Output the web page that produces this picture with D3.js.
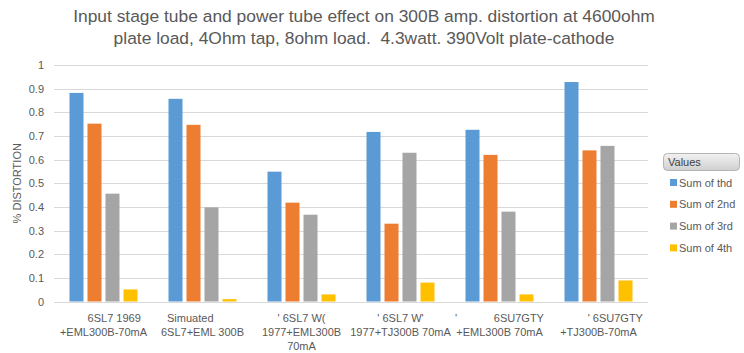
<!DOCTYPE html>
<html><head><meta charset="utf-8">
<script src="https://cdn.jsdelivr.net/npm/d3@7"></script>
<style>
body{margin:0;background:#fff;}
svg{display:block;font-family:"Liberation Sans",Arial,sans-serif;}
</style></head>
<body><svg id="c" width="744" height="353"></svg>
<script>
const titleLines = ["Input stage tube and power tube effect on 300B amp. distortion at 4600ohm",
                    "plate load, 4Ohm tap, 8ohm load.\u00a0 4.3watt. 390Volt plate-cathode"];
const categories = [
  ["\u00a0\u00a0\u00a0\u00a0\u00a0\u00a0\u00a06SL7 1969", "+EML300B-70mA"],
  ["Simuated\u00a0\u00a0\u00a0\u00a0\u00a0\u00a0\u00a0\u00a0", "6SL7+EML 300B"],
  ["' 6SL7 W(", "1977+EML300B", "70mA"],
  ["' 6SL7 W'", "1977+TJ300B 70mA"],
  ["'\u00a0\u00a0\u00a0\u00a0\u00a0\u00a0\u00a0\u00a0\u00a0\u00a0\u00a0\u00a06SU7GTY", "+EML300B 70mA"],
  ["\u00a0\u00a0\u00a0\u00a0\u00a0\u00a0\u00a0\u00a0\u00a0\u00a0\u00a0' 6SU7GTY", "+TJ300B-70mA"]
];
const seriesNames = ["Sum of thd", "Sum of 2nd", "Sum of 3rd", "Sum of 4th"];
const thd    = [0.882, 0.857, 0.549, 0.717, 0.726, 0.928];
const second = [0.752, 0.747, 0.418, 0.329, 0.620, 0.639];
const third  = [0.456, 0.398, 0.367, 0.629, 0.380, 0.658];
const fourth = [0.051, 0.010, 0.030, 0.080, 0.030, 0.089];
const yTicks = [0, 0.1, 0.2, 0.3, 0.4, 0.5, 0.6, 0.7, 0.8, 0.9, 1];
const colors = ["#5B9BD5", "#ED7D31", "#A5A5A5", "#FFC000"];

const series = [thd, second, third, fourth];
const svg = d3.select("#c");
const m = {left: 54, right: 96, top: 65, bottom: 51.5};
const W = 744, H = 353;

const x0 = d3.scaleBand().domain(d3.range(categories.length)).range([m.left, W - m.right]).padding(0);
const x1 = d3.scaleBand().domain(d3.range(series.length))
  .range([15.5, x0.bandwidth() - 15.5]).paddingInner(0.222).paddingOuter(0);
const y = d3.scaleLinear().domain([0, 1]).range([H - m.bottom, m.top]);

// title
const t = svg.append("text").attr("x", 364).attr("fill", "#595959")
  .attr("font-size", 17.4).attr("text-anchor", "middle");
titleLines.forEach((l, i) => t.append("tspan").attr("x", 364).attr("y", 22 + i * 22).text(l));

// gridlines
svg.append("g").selectAll("line").data(yTicks).join("line")
  .attr("x1", m.left).attr("x2", W - m.right)
  .attr("y1", d => Math.round(y(d)) + 0.5).attr("y2", d => Math.round(y(d)) + 0.5)
  .attr("stroke", "#D9D9D9").attr("stroke-width", 1);

// y axis labels
const yAxis = svg.append("g").attr("transform", `translate(${m.left},0)`)
  .call(d3.axisLeft(y).tickValues(yTicks).tickFormat(d3.format("~g")).tickSize(0).tickPadding(10));
yAxis.select(".domain").remove();
yAxis.selectAll("text").attr("fill", "#595959").attr("font-size", 11)
  .attr("font-family", "Liberation Sans, Arial, sans-serif");

svg.append("text").attr("transform", `translate(21,${(y(0) + y(1)) / 2}) rotate(-90)`)
  .attr("text-anchor", "middle").attr("fill", "#595959").attr("font-size", 11)
  .text("% DISTORTION");

// bars
const g = svg.append("g");
series.forEach((vals, si) => {
  g.append("g").attr("fill", colors[si]).selectAll("rect").data(vals).join("rect")
    .attr("x", (d, i) => x0(i) + x1(si))
    .attr("width", x1.bandwidth())
    .attr("y", d => y(d))
    .attr("height", d => y(0) - y(d));
});

// x labels
const xl = svg.append("g").attr("fill", "#595959").attr("font-size", 11);
categories.forEach((lines, i) => {
  const tx = xl.append("text").attr("text-anchor", "middle");
  lines.forEach((l, j) => tx.append("tspan").attr("x", x0(i) + x0.bandwidth() / 2)
    .attr("y", 322 + j * 14).text(l));
});

// legend
const lg = svg.append("g");
const defs = svg.append("defs");
const grad = defs.append("linearGradient").attr("id", "lgGrad").attr("x1", 0).attr("x2", 0).attr("y1", 0).attr("y2", 1);
grad.append("stop").attr("offset", "0%").attr("stop-color", "#f2f2f2");
grad.append("stop").attr("offset", "100%").attr("stop-color", "#cfcfcf");
lg.append("rect").attr("x", 663.5).attr("y", 153.5).attr("width", 76).attr("height", 17)
  .attr("rx", 4).attr("fill", "url(#lgGrad)").attr("stroke", "#b5b5b5");
lg.append("text").attr("x", 668).attr("y", 166).attr("font-size", 11).attr("fill", "#404040").text("Values");
seriesNames.forEach((n, i) => {
  const yy = 183 + i * 21.8;
  lg.append("rect").attr("x", 670).attr("y", yy - 4).attr("width", 7).attr("height", 7).attr("fill", colors[i]);
  lg.append("text").attr("x", 679).attr("y", yy + 3.5).attr("font-size", 11).attr("fill", "#595959").text(n);
});
</script></body></html>
